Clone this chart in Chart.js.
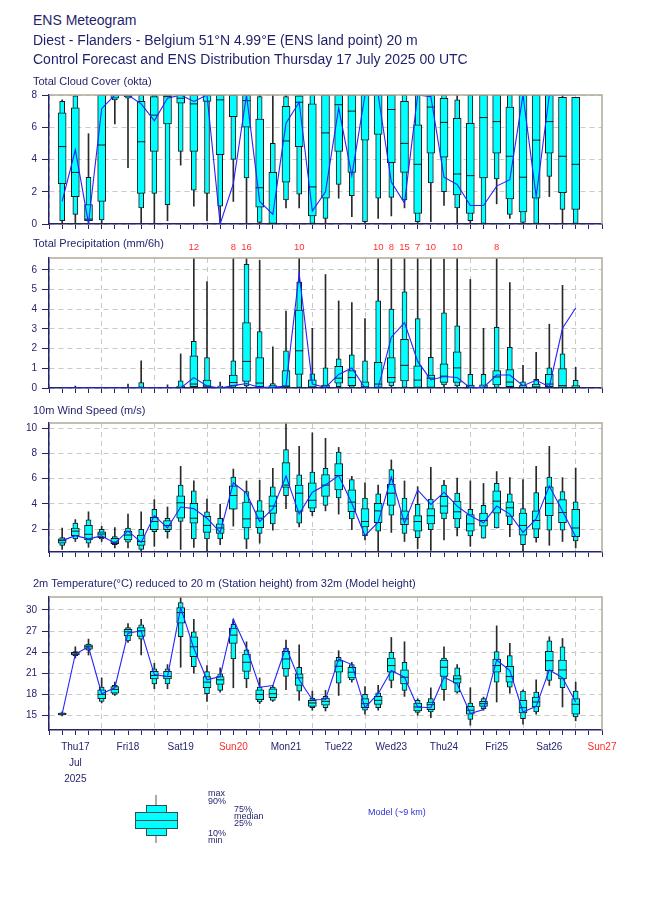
<!DOCTYPE html>
<html>
<head>
<meta charset="utf-8">
<script src="https://cdn.jsdelivr.net/npm/chart.js@4.4.1/dist/chart.umd.min.js"></script>
<style>
  body { margin: 0; background: #fff; width: 650px; height: 916px; position: relative; overflow: hidden;
         font-family: "Liberation Sans", Arial, sans-serif; color: #1f1f6b; }
  .t { position: absolute; left: 33px; white-space: nowrap; line-height: 1; z-index: 2; }
  .h { font-size: 14px; }
  .p { font-size: 11px; }
  .lg { position: absolute; font-size: 9px; line-height: 1; white-space: nowrap; color: #1f1f6b; }
  canvas { position: absolute; left: 0; }
  .bx { position: absolute; box-sizing: border-box; background: #00ffff; border: 1px solid #2b4f55; }
</style>
</head>
<body>
<div class="t h" style="top:13px">ENS Meteogram</div>
<div class="t h" style="top:33px">Diest - Flanders - Belgium 51°N 4.99°E (ENS land point) 20 m</div>
<div class="t h" style="top:52px">Control Forecast and ENS Distribution Thursday 17 July 2025 00 UTC</div>
<div class="t p" style="top:76px">Total Cloud Cover (okta)</div>
<div class="t p" style="top:238px">Total Precipitation (mm/6h)</div>
<div class="t p" style="top:405px">10m Wind Speed (m/s)</div>
<div class="t p" style="top:578px">2m Temperature(°C) reduced to 20 m (Station height) from 32m (Model height)</div>

<canvas id="cloud" width="650" height="151" style="top:84px"></canvas>
<canvas id="precip" width="650" height="161" style="top:238px"></canvas>
<canvas id="wind" width="650" height="151" style="top:412px"></canvas>
<canvas id="temp" width="650" height="206" style="top:586px"></canvas>

<!-- legend -->
<div style="position:absolute;left:155px;top:795px;width:2px;height:48px;background:#aaa"></div>
<div class="bx" style="left:146px;top:805px;width:21px;height:31px"></div>
<div class="bx" style="left:135px;top:812px;width:43px;height:17px"></div>
<div style="position:absolute;left:135px;top:820px;width:43px;height:1px;background:#2b4f55"></div>
<div class="lg" style="left:208px;top:789px">max</div>
<div class="lg" style="left:208px;top:797px">90%</div>
<div class="lg" style="left:234px;top:805px">75%</div>
<div class="lg" style="left:234px;top:812px">median</div>
<div class="lg" style="left:234px;top:819px">25%</div>
<div class="lg" style="left:208px;top:829px">10%</div>
<div class="lg" style="left:208px;top:836px">min</div>
<div class="lg" style="left:368px;top:808px;color:#3030d8">Model (~9 km)</div>

<script>
// forecast steps (hours after Thu 17 Jul 2025 00 UTC)
const steps = [6, 12, 18, 24, 30, 36, 42, 48, 54, 60, 66, 72, 78, 84, 90, 96, 102, 108, 114, 120,
  126, 132, 138, 144, 150, 156, 162, 168, 174, 180, 186, 192, 198, 204, 210, 216, 222, 228, 234, 240];
const dayLabels = ["Thu17", "Fri18", "Sat19", "Sun20", "Mon21", "Tue22", "Wed23", "Thu24", "Fri25", "Sat26", "Sun27"];
const monthLabel = "Jul";
const yearLabel = "2025";

// Total cloud cover (okta)
const cloudMin = [0, 0, 0, 0, 6.2, 3.5, 0, 0, 0.2, 3.65, 1.1, 0.2, 0, 1.4, 0, 0, 0, 1.0, 1.0, 0,
  0, 1.6, 0.45, 0, 0.35, 0.5, 1.0, 0, 0.15, 1.15, 0, 0, 0, 1.25, 0.35, 0, 0, 1.7, 0, 0];
const cloudP10 = [0.2, 0.6, 0.2, 0.25, 7.7, 7.8, 1.0, 1.9, 1.2, 4.5, 2.1, 1.9, 1.1, 4.0, 2.85, 0.1, 0, 1.5, 1.85, 0,
  0.35, 2.45, 1.75, 0.15, 1.6, 1.65, 1.5, 0.15, 2.55, 2.0, 1.0, 0.2, 0, 2.8, 0.6, 0.1, 0, 2.95, 0.9, 0];
const cloudP25 = [2.5, 1.7, 0.2, 1.4, 7.8, 7.9, 1.9, 4.5, 6.2, 7.5, 4.5, 7.6, 4.3, 6.65, 6.0, 1.05, 0, 2.6, 4.8, 0.5,
  1.6, 4.5, 3.2, 5.2, 5.55, 3.8, 3.2, 0.65, 4.4, 4.15, 1.8, 0.65, 2.85, 4.4, 1.55, 0.75, 1.6, 4.4, 1.95, 0.9];
const cloudMed = [4.8, 3.2, 0.3, 4.9, 8, 8, 5.1, 6.75, 7.9, 7.8, 7.45, 8, 7.7, 8, 7.65, 2.25, 0, 5.15, 7.55, 2.3,
  5.65, 7.4, 7.0, 8, 8, 7.1, 5.0, 3.7, 7.25, 6.3, 3.1, 3.0, 6.6, 6.35, 4.2, 2.9, 5.2, 6.35, 4.2, 3.7];
const cloudP75 = [6.9, 7.2, 1.2, 8, 8, 8, 7.6, 7.9, 8, 8, 8, 8, 8, 8, 8, 6.5, 3.2, 7.3, 7.95, 7.45,
  8, 8, 8, 8, 8, 8, 7.6, 6.15, 8, 7.8, 6.55, 6.25, 8, 8, 7.25, 8, 8, 8, 7.85, 7.85];
const cloudP90 = [7.6, 7.95, 2.9, 8, 8, 8, 8, 8, 8, 8, 8, 8, 8, 8, 8, 7.9, 5.0, 7.9, 8, 8,
  8, 8, 8, 8, 8, 8, 8, 8, 8, 8, 7.7, 8, 8, 8, 8, 8, 8, 8, 7.85, 7.85];
const cloudMax = [7.7, 8, 5.6, 8, 8, 8, 8, 8, 8, 8, 8, 8, 8, 8, 8, 8, 8, 8, 8, 8,
  8, 8, 8, 8, 8, 8, 8, 8, 8, 8, 8, 8, 8, 8, 8, 8, 8, 8, 8, 7.85];
const cloudCtrl = [1.4, 4.6, 0.05, 7.15, 8, 8, 7.45, 6.4, 7.8, 8, 7.6, 8, 0, 2.5, 8, 1.4, 0.6, 6.25, 7.55, 0.8,
  2.0, 7.2, 3.0, 8, 8, 2.6, 1.3, 8, 7.9, 2.9, 2.45, 1.15, 1.15, 2.35, 2.75, 8, 1.7, 8, 8, 8];

// Total precipitation (mm/6h)
const precipMin = [0, 0, 0, 0, 0, 0, 0, 0, 0, 0, 0, 0, 0, 0, 0, 0, 0, 0, 0, 0,
  0, 0, 0, 0, 0, 0, 0, 0, 0, 0, 0, 0, 0, 0, 0, 0, 0, 0, 0, 0];
const precipP10 = [0, 0, 0, 0, 0, 0, 0, 0, 0, 0, 0.03, 0, 0, 0.03, 0.1, 0, 0, 0, 0, 0,
  0, 0.07, 0.03, 0, 0, 0.1, 0.03, 0, 0, 0.16, 0.1, 0, 0, 0.03, 0, 0, 0, 0, 0, 0];
const precipP25 = [0, 0, 0, 0, 0, 0, 0, 0, 0, 0, 0.07, 0.03, 0, 0.1, 0.33, 0.07, 0, 0.05, 0.69, 0,
  0, 0.25, 0.12, 0, 0, 0.28, 0.36, 0.03, 0.03, 0.28, 0.28, 0, 0, 0.16, 0.07, 0, 0, 0.07, 0, 0];
const precipMed = [0, 0, 0, 0, 0, 0, 0, 0, 0, 0.02, 0.2, 0.1, 0, 0.28, 1.35, 0.25, 0.02, 0.1, 1.89, 0.05,
  0.02, 0.5, 0.53, 0.05, 0.2, 0.53, 1.15, 0.4, 0.5, 0.6, 1.02, 0.02, 0.02, 0.56, 0.3, 0.02, 0.05, 0.2, 0.12, 0.02];
const precipP75 = [0, 0, 0, 0, 0, 0, 0.05, 0, 0, 0.1, 1.63, 0.4, 0.03, 0.66, 3.32, 1.55, 0.12, 0.89, 3.95, 0.41,
  0.15, 1.1, 0.89, 0.31, 1.3, 1.55, 2.47, 1.13, 0.66, 1.23, 1.84, 0.15, 0.16, 0.89, 0.94, 0.12, 0.2, 0.69, 0.99, 0.12];
const precipP90 = [0, 0, 0, 0, 0, 0, 0.28, 0, 0, 0.36, 2.37, 1.55, 0.1, 1.38, 6.28, 2.86, 0.23, 1.89, 5.38, 0.72,
  1.02, 1.48, 1.68, 1.38, 4.42, 4.01, 4.88, 3.52, 1.56, 3.82, 3.16, 0.69, 0.69, 3.08, 2.06, 0.31, 0.44, 1.02, 1.73, 0.39];
const precipMax = [0, 0.1, 0, 0, 0, 0.2, 1.38, 0, 0.16, 1.73, 12, 5.4, 0.3, 8, 16, 6.48, 2.09, 3.9, 10, 3.03,
  5.76, 4.42, 4.34, 3.52, 10, 8, 15, 7, 10, 6.55, 10, 5.51, 3.03, 8, 5.35, 1.15, 1.81, 3.24, 5.21, 1.05];
const precipCtrl = [0, 0, 0, 0, 0, 0, 0, 0, 0, 0, 0.53, 0.1, 0, 0.12, 0.23, 0.03, 0.03, 0.1, 5.82, 0.2,
  0.03, 0.69, 1.02, 0, 0, 2.58, 3.32, 1.35, 0.41, 0.58, 0.53, 0, 0.03, 0.66, 0.66, 0.12, 0.39, 0.07, 3.03, 4.06];

// 10m wind speed (m/s)
const windMin = [0.4, 1.03, 0.57, 1.03, 0.52, 0.52, 0.27, 0.65, 1.29, 0.4, 0.57, 0.27, 0.78, 2.25, 0.47, 0.9, 1.92, 3.63, 2.18, 3.07,
  3.45, 3.2, 1.97, 1.16, 0.22, 1.75, 1.03, 0.47, 0.32, 1.16, 1.47, 0.65, 1.29, 2.1, 1.41, 0.27, 0.98, 0.73, 1.03, 0.52];
const windP10 = [0.73, 1.24, 0.9, 1.24, 0.78, 0.98, 0.4, 1.8, 1.8, 2.61, 1.24, 1.24, 1.24, 3.58, 1.21, 1.67, 2.43, 4.65, 2.48, 3.38,
  3.89, 4.47, 2.82, 1.49, 1.85, 3.12, 1.67, 1.34, 1.97, 2.82, 2.1, 1.47, 1.29, 2.1, 2.36, 0.78, 1.34, 1.92, 1.92, 1.08];
const windP25 = [0.9, 1.49, 1.16, 1.34, 0.85, 1.16, 0.73, 1.97, 1.97, 2.87, 2.48, 1.75, 1.67, 3.58, 2.1, 2.13, 3.25, 5.31, 3.4, 3.66,
  4.6, 5.11, 3.38, 2.18, 2.51, 3.89, 2.36, 1.85, 2.43, 3.25, 2.82, 1.85, 2.25, 3.27, 3.02, 1.54, 2.0, 3.07, 2.51, 1.41];
const windMed = [1.1, 1.85, 1.6, 1.62, 0.98, 1.54, 1.03, 2.61, 2.3, 4.09, 2.87, 2.3, 2.1, 4.67, 2.82, 2.87, 3.83, 5.49, 4.85, 4.29,
  5.49, 6.25, 4.14, 2.61, 3.45, 4.85, 2.82, 2.61, 3.07, 3.83, 3.38, 2.43, 2.69, 4.22, 3.7, 2.3, 2.69, 4.04, 3.32, 2.1];
const windP75 = [1.24, 2.1, 2.3, 1.8, 1.29, 1.85, 1.54, 2.94, 2.69, 4.65, 4.04, 3.02, 2.43, 5.44, 4.14, 3.45, 4.65, 7.27, 5.49, 5.67,
  6.33, 7.2, 5.11, 3.63, 4.04, 5.57, 3.45, 3.07, 3.63, 4.6, 4.22, 3.15, 3.27, 5.03, 4.17, 3.27, 3.45, 5.36, 4.34, 3.58];
const windP90 = [1.34, 2.48, 2.74, 2.0, 1.41, 2.1, 2.0, 3.58, 2.87, 5.49, 5.03, 3.38, 2.87, 6.13, 4.98, 4.27, 5.36, 8.29, 6.31, 6.51,
  6.82, 8.11, 5.92, 4.47, 4.8, 6.71, 4.47, 3.96, 4.39, 5.49, 4.85, 3.58, 3.89, 5.62, 4.8, 3.63, 4.9, 6.13, 4.98, 4.17];
const windMax = [2.1, 2.76, 3.38, 2.23, 2.13, 3.2, 3.38, 4.34, 3.76, 6.97, 5.82, 4.39, 3.96, 6.76, 5.82, 5.87, 6.82, 10.4, 8.55, 9.62,
  9.19, 8.47, 6.18, 5.67, 5.49, 7.48, 5.82, 5.36, 6.89, 5.87, 6.05, 5.82, 5.62, 6.56, 6.08, 5.92, 6.97, 8.55, 6.08, 6.84];
const windCtrl = [1.1, 1.49, 1.24, 1.47, 0.9, 1.87, 0.96, 3.07, 2.1, 3.76, 3.63, 2.87, 1.75, 5.67, 4.85, 2.61, 3.63, 6.2, 3.2, 4.93,
  5.5, 6.25, 4.05, 1.49, 2.56, 6.13, 2.48, 5.11, 3.96, 4.93, 3.83, 3.07, 2.51, 3.83, 3.2, 1.75, 2.82, 5.41, 3.45, 1.41];

// 2m temperature (°C)
const tempMin = [14.9, 23.16, 23.58, 16.75, 17.83, 25.38, 23.58, 18.77, 18.77, 21.84, 20.99, 16.98, 18.3, 18.92, 18.92, 16.65, 16.98, 18.63, 17.12, 15.71,
  15.61, 17.83, 19.72, 15.14, 15.71, 18.92, 17.69, 15.0, 14.67, 17.12, 18.16, 13.58, 15.71, 16.89, 18.16, 13.73, 15.14, 19.25, 16.18, 14.2];
const tempP10 = [15.05, 23.5, 24.29, 16.98, 17.97, 25.61, 25.85, 19.48, 19.48, 26.18, 21.93, 18.07, 18.54, 23.02, 20.19, 16.89, 17.12, 20.52, 18.44, 16.08,
  16.08, 19.58, 20.05, 15.71, 16.08, 19.95, 18.54, 15.4, 15.47, 18.63, 18.3, 14.39, 15.94, 19.72, 19.0, 14.53, 15.47, 19.95, 18.92, 14.76];
const tempP25 = [15.1, 23.58, 24.43, 17.36, 18.16, 26.32, 26.23, 20.19, 20.19, 28.11, 23.35, 18.92, 19.39, 25.24, 21.23, 17.22, 17.5, 21.6, 19.25, 16.27,
  16.42, 21.13, 20.33, 16.08, 16.56, 21.13, 19.48, 15.61, 15.8, 20.52, 19.58, 15.14, 16.27, 21.13, 19.72, 15.33, 16.18, 21.37, 20.19, 15.14];
const tempMed = [15.2, 23.73, 24.76, 17.97, 18.68, 26.89, 27.03, 20.66, 20.52, 29.62, 24.76, 19.72, 20.05, 26.42, 22.55, 17.97, 18.07, 23.02, 20.33, 16.75,
  16.98, 21.98, 21.13, 16.65, 17.12, 22.08, 20.42, 16.18, 16.51, 21.84, 20.19, 15.71, 16.65, 22.08, 20.52, 16.08, 16.89, 22.78, 21.46, 16.56];
const tempP75 = [15.3, 23.96, 25.05, 18.63, 19.1, 27.26, 27.5, 21.27, 21.27, 30.33, 26.18, 20.52, 20.52, 27.41, 23.73, 18.63, 18.77, 24.1, 20.9, 17.12,
  17.45, 22.78, 21.84, 17.36, 17.69, 23.16, 21.46, 16.75, 16.89, 22.88, 20.66, 16.27, 16.98, 23.02, 21.98, 17.12, 17.59, 24.1, 22.88, 17.36];
const tempP90 = [15.35, 24.06, 25.14, 19.0, 19.25, 27.5, 27.88, 21.6, 21.6, 31.04, 26.89, 21.23, 20.9, 27.97, 24.34, 19.0, 19.0, 24.58, 21.84, 17.45,
  17.69, 23.25, 22.22, 17.97, 18.21, 23.96, 22.55, 17.12, 17.36, 23.16, 21.75, 16.75, 17.36, 24.06, 23.49, 18.44, 18.3, 25.61, 24.76, 18.44];
const tempMax = [15.5, 24.76, 25.85, 20.33, 19.72, 28.07, 28.68, 22.41, 22.22, 31.84, 28.68, 22.08, 21.75, 28.68, 25.47, 20.33, 19.25, 25.71, 25.05, 18.44,
  18.54, 24.2, 22.55, 19.1, 19.25, 26.09, 25.47, 17.36, 18.92, 24.76, 22.22, 18.92, 17.59, 27.74, 25.24, 18.63, 20.05, 26.18, 25.94, 19.72];
const tempCtrl = [15.2, 23.73, 24.76, 18.07, 18.92, 26.7, 27.03, 20.8, 20.52, 30.33, 24.53, 20.05, 20.52, 28.68, 24.58, 19.0, 19.25, 24.76, 20.05, 17.22,
  17.25, 23.02, 22.22, 16.08, 18.07, 21.37, 20.42, 16.18, 16.08, 20.42, 19.48, 15.24, 15.8, 22.88, 21.37, 15.47, 16.27, 21.46, 20.33, 16.89];

const NAVY = "#24246e";
const GRID = "#c9c9c9";
const FRAME = "#b1a899";
const CYAN = "#00ffff";
const CTRL = "#2323ff";

Chart.defaults.font.family = '"Liberation Sans", Arial, sans-serif';

const framePlugin = {
  id: "frame",
  afterDraw(chart) {
    const { ctx, chartArea: a } = chart;
    ctx.save();
    ctx.strokeStyle = FRAME;
    ctx.lineWidth = 1.5;
    ctx.beginPath();
    ctx.moveTo(a.left, a.top);
    ctx.lineTo(a.right, a.top);
    ctx.lineTo(a.right, a.bottom);
    ctx.stroke();
    ctx.restore();
  },
};

// red labels for ensemble maxima that fall above the plotted range
function overflowPlugin(maxValues) {
  return {
    id: "overflow",
    afterDraw(chart) {
      const { ctx, chartArea, scales } = chart;
      ctx.save();
      ctx.fillStyle = "#ff3030";
      ctx.font = '9.5px "Liberation Sans", Arial, sans-serif';
      ctx.textAlign = "center";
      ctx.textBaseline = "middle";
      maxValues.forEach((v, i) => {
        if (v > scales.y.max) {
          ctx.fillText(String(v), scales.x.getPixelForValue(steps[i]), chartArea.top - 11);
        }
      });
      ctx.restore();
    },
  };
}

function boxDatasets(lo, p10, p25, med, p75, p90, hi, ctrl) {
  const span = (a, b) => steps.map((h, i) => ({ x: h, y: [a[i], b[i]] }));
  const bar = { type: "bar", grouped: false, borderSkipped: false };
  return [
    { type: "line", data: steps.map((h, i) => ({ x: h, y: ctrl[i] })), borderColor: CTRL, borderWidth: 1.1,
      pointRadius: 0, tension: 0, order: 0 },
    { type: "line", data: steps.map((h, i) => ({ x: h, y: med[i] })).filter((p, i) => p75[i] > p25[i]),
      showLine: false, pointStyle: "line", pointRadius: 4, pointBorderWidth: 1, pointBorderColor: "#1a1a1a",
      pointBackgroundColor: "#1a1a1a", order: 1 },
    { ...bar, data: span(p25, p75), barThickness: 8, backgroundColor: CYAN, borderColor: "#1a1a1a", borderWidth: 1, order: 2 },
    { ...bar, data: span(p10, p90), barThickness: 5, backgroundColor: CYAN, borderColor: "#1a1a1a", borderWidth: 1, order: 3 },
    { ...bar, data: span(lo, hi), barThickness: 1, backgroundColor: "#2a2a2a", borderWidth: 0, order: 4 },
  ];
}

function makePanel(id, opts) {
  const dayLabel = (v) => dayLabels[(v - 12) / 24];
  return new Chart(document.getElementById(id), {
    type: "bar",
    data: { datasets: boxDatasets(...opts.series) },
    options: {
      responsive: false,
      animation: false,
      events: [],
      layout: { padding: { top: opts.padTop, left: 0, right: 48, bottom: 0 } },
      plugins: { legend: { display: false }, tooltip: { enabled: false } },
      scales: {
        x: {
          type: "linear",
          min: 0,
          max: 252,
          offset: false,
          afterFit: (s) => { s.height = opts.axisH; },
          ticks: {
            stepSize: 6,
            autoSkip: false,
            maxRotation: 0,
            display: !!opts.labels,
            padding: 4,
            font: { size: 10, lineHeight: 1.6 },
            color: (c) => {
              const d = c.tick ? dayLabel(c.tick.value) : null;
              return d && d.startsWith("Sun") ? "#ff2a2a" : NAVY;
            },
            callback: (v) => {
              if (v % 24 !== 12) return "";
              if (v === 12) return [dayLabels[0], monthLabel, yearLabel];
              return dayLabel(v);
            },
          },
          grid: {
            offset: false,
            color: (c) => (c.tick && c.tick.value % 24 === 0 ? GRID : "rgba(0,0,0,0)"),
            tickColor: NAVY,
            tickLength: 5,
          },
          border: { color: NAVY, width: 1.5, dash: [5, 4] },
        },
        y: {
          min: opts.yMin,
          max: opts.yMax,
          afterBuildTicks: (s) => { s.ticks = opts.yTicks.map((v) => ({ value: v })); },
          afterFit: (s) => { s.width = 49; },
          ticks: { color: NAVY, font: { size: 10 }, padding: 5 },
          grid: { color: GRID, tickColor: NAVY, tickLength: 7 },
          border: { color: NAVY, width: 1.5, dash: [5, 4] },
        },
      },
    },
    plugins: [framePlugin].concat(opts.extra || []),
  });
}

const cloudTicks = [0, 2, 4, 6, 8];
const precipTicks = [0, 1, 2, 3, 4, 5, 6];
const windTicks = [2, 4, 6, 8, 10];
const tempTicks = [15, 18, 21, 24, 27, 30];

makePanel("cloud", {
  series: [cloudMin, cloudP10, cloudP25, cloudMed, cloudP75, cloudP90, cloudMax, cloudCtrl],
  yMin: 0, yMax: 8, yTicks: cloudTicks, padTop: 10, axisH: 7,
});
makePanel("precip", {
  series: [precipMin, precipP10, precipP25, precipMed, precipP75, precipP90, precipMax, precipCtrl],
  yMin: 0, yMax: 6.6, yTicks: precipTicks, padTop: 20, axisH: 7, extra: [overflowPlugin(precipMax)],
});
makePanel("wind", {
  series: [windMin, windP10, windP25, windMed, windP75, windP90, windMax, windCtrl],
  yMin: 0.2, yMax: 10.4, yTicks: windTicks, padTop: 10, axisH: 7,
});
makePanel("temp", {
  series: [tempMin, tempP10, tempP25, tempMed, tempP75, tempP90, tempMax, tempCtrl],
  yMin: 12.9, yMax: 31.85, yTicks: tempTicks, padTop: 10, axisH: 62, labels: true,
});
</script>
</body>
</html>
